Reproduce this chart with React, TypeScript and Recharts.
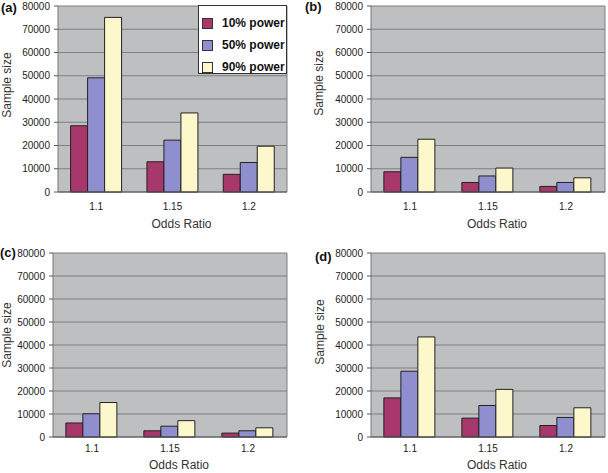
import React from 'react';
import { BarChart, Bar, XAxis, YAxis, CartesianGrid, Legend } from 'recharts';

const categories = ['1.1', '1.15', '1.2'];
const seriesNames = ['10% power', '50% power', '90% power'];
const yTicks = [0, 10000, 20000, 30000, 40000, 50000, 60000, 70000, 80000];

const aPower10 = [28500, 13000, 7600];
const aPower50 = [49100, 22300, 12700];
const aPower90 = [75100, 34000, 19700];

const bPower10 = [8700, 4100, 2400];
const bPower50 = [14900, 6900, 4100];
const bPower90 = [22700, 10300, 6100];

const cPower10 = [6100, 2700, 1700];
const cPower50 = [10100, 4700, 2700];
const cPower90 = [15000, 7100, 4000];

const dPower10 = [17000, 8200, 5000];
const dPower50 = [28600, 13700, 8500];
const dPower90 = [43500, 20700, 12700];

const COLORS = ['#A8376C', '#8F8FCF', '#FCF8CC'];
const FONT = '"Liberation Sans", Arial, sans-serif';

const build = (p10: number[], p50: number[], p90: number[]) =>
  categories.map((c, i) => ({ cat: c, p10: p10[i], p50: p50[i], p90: p90[i] }));

const LegendBox = () => (
  <div
    style={{
      width: 89,
      height: 69,
      boxSizing: 'border-box',
      border: '1px solid #333',
      background: '#fff',
      padding: '6px 0 0 3px',
      fontFamily: FONT,
      fontWeight: 'bold',
      fontSize: 12,
      color: '#111',
    }}
  >
    {seriesNames.map((n, i) => (
      <div key={n} style={{ height: 22, display: 'flex', alignItems: 'center' }}>
        <div
          style={{
            width: 9,
            height: 9,
            border: '1px solid #333',
            background: COLORS[i],
            marginRight: 9,
          }}
        />
        <span>{n}</span>
      </div>
    ))}
  </div>
);

type PanelProps = {
  letter: string;
  data: any[];
  left: number;
  top: number;
  width: number;
  height: number;
  margin: { top: number; right: number; bottom: number; left: number };
  yWidth: number;
  xHeight: number;
  tickSize: number;
  tickMargin: number;
  xLabelOffset: number;
  yLabelDx: number;
  yLabelDy: number;
  letterLeft: number;
  letterTop: number;
  legend?: boolean;
};

const rightEdge = ({ offset }: any) => [offset.left + offset.width];

const Panel = (p: PanelProps) => (
  <div style={{ position: 'absolute', left: p.left, top: p.top, width: p.width, height: p.height }}>
    <BarChart
      width={p.width}
      height={p.height}
      data={p.data}
      margin={p.margin}
      barCategoryGap="16.5%"
      barGap={0}
    >
      <CartesianGrid
        fill="#BEBFC1"
        stroke="#7f7f7f"
        verticalCoordinatesGenerator={rightEdge}
      />
      <XAxis
        dataKey="cat"
        height={p.xHeight}
        tickLine={false}
        tickSize={p.tickSize}
        tickMargin={p.tickMargin}
        axisLine={{ stroke: '#555' }}
        tick={{ fontSize: 10, fill: '#222', fontFamily: FONT }}
        label={{
          value: 'Odds Ratio',
          position: 'insideBottom',
          offset: p.xLabelOffset,
          dx: 9,
          fontSize: 12,
          fill: '#333',
          fontFamily: FONT,
        }}
      />
      <YAxis
        width={p.yWidth}
        domain={[0, 80000]}
        ticks={yTicks}
        interval={0}
        tickSize={4}
        tickMargin={4}
        tickLine={{ stroke: '#555' }}
        axisLine={{ stroke: '#777' }}
        tick={{ fontSize: 10, fill: '#222', fontFamily: FONT }}
        label={{
          value: 'Sample size',
          angle: -90,
          position: 'center',
          dx: p.yLabelDx,
          dy: p.yLabelDy,
          fontSize: 12,
          fill: '#333',
          fontFamily: FONT,
        }}
      />
      {p.legend && (
        <Legend
          layout="vertical"
          align="center"
          verticalAlign="middle"
          content={() => <LegendBox />}
          wrapperStyle={{ position: 'absolute', left: 198, top: 5, width: 89, height: 69 }}
        />
      )}
      <Bar dataKey="p10" name={seriesNames[0]} fill={COLORS[0]} stroke="#222" strokeWidth={1} isAnimationActive={false} />
      <Bar dataKey="p50" name={seriesNames[1]} fill={COLORS[1]} stroke="#222" strokeWidth={1} isAnimationActive={false} />
      <Bar dataKey="p90" name={seriesNames[2]} fill={COLORS[2]} stroke="#222" strokeWidth={1} isAnimationActive={false} />
    </BarChart>
    <div
      style={{
        position: 'absolute',
        left: p.letterLeft,
        top: p.letterTop,
        fontFamily: FONT,
        fontWeight: 'bold',
        fontSize: 13,
        color: '#111',
        lineHeight: '14px',
      }}
    >
      {p.letter}
    </div>
  </div>
);

export default function App() {
  return (
    <div style={{ position: 'absolute', left: 0, top: 0, width: 608, height: 473, background: '#fff' }}>
      <Panel
        letter="(a)"
        data={build(aPower10, aPower50, aPower90)}
        left={0}
        top={0}
        width={300}
        height={240}
        margin={{ top: 6, right: 13, bottom: 8, left: 0 }}
        yWidth={58}
        xHeight={40}
        tickSize={5}
        tickMargin={6}
        xLabelOffset={4}
        yLabelDx={-22}
        yLabelDy={-14}
        letterLeft={1}
        letterTop={1}
        legend
      />
      <Panel
        letter="(b)"
        data={build(bPower10, bPower50, bPower90)}
        left={300}
        top={0}
        width={308}
        height={240}
        margin={{ top: 6, right: 3, bottom: 8, left: 0 }}
        yWidth={71}
        xHeight={40}
        tickSize={5}
        tickMargin={6}
        xLabelOffset={4}
        yLabelDx={-16.5}
        yLabelDy={-16}
        letterLeft={5}
        letterTop={0}
      />
      <Panel
        letter="(c)"
        data={build(cPower10, cPower50, cPower90)}
        left={0}
        top={240}
        width={300}
        height={233}
        margin={{ top: 13, right: 13, bottom: 0, left: 0 }}
        yWidth={53}
        xHeight={36}
        tickSize={4}
        tickMargin={4}
        xLabelOffset={4}
        yLabelDx={-19.5}
        yLabelDy={-10}
        letterLeft={0}
        letterTop={6}
      />
      <Panel
        letter="(d)"
        data={build(dPower10, dPower50, dPower90)}
        left={300}
        top={240}
        width={308}
        height={233}
        margin={{ top: 13, right: 3, bottom: 0, left: 0 }}
        yWidth={71}
        xHeight={36}
        tickSize={4}
        tickMargin={4}
        xLabelOffset={4}
        yLabelDx={-15.5}
        yLabelDy={-13}
        letterLeft={15}
        letterTop={10}
      />
    </div>
  );
}
